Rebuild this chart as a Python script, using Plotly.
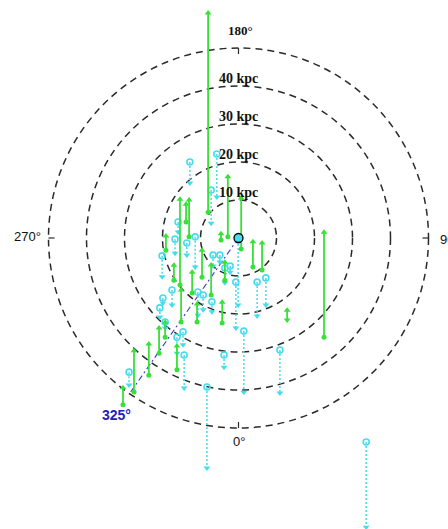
import numpy as np
import plotly.graph_objects as go

# ---------------- data (kpc, Sun at origin; 0 deg down, 90 deg right) ----------------
ring_radii = [10, 20, 30, 40, 50]
ring_labels = ["10 kpc", "20 kpc", "30 kpc", "40 kpc"]
direction_angles = [0, 90, 180, 270]
direction_labels = ["0°", "90°", "180°", "270°"]
los_angle = 325
los_length = 50
los_label = "325°"

# green objects: x, y of base (dot), length of arrow (upwards)
green_x = [-8.0, -2.8, 0.7, 3.8, 6.2, 22.5, -4.3, -15.4, -13.0, -13.8, -19.1, -4.6,
           -12.2, -9.6, -7.2, -3.6, -15.1, -10.9, -20.9, -19.3, -23.6, -27.5, -30.4,
           -16.2, -17.0]
green_y = [6.8, 0.3, -2.9, -7.6, -8.4, -26.1, -22.4, -12.4, 0.3, 4.2, -3.2, -0.5,
           -14.5, -10.3, -15.0, -11.1, -22.1, -22.1, -30.3, -26.1, -36.1, -40.5, -43.9,
           -34.7, -11.1]
green_len = [52.4, 15.8, 13.4, 6.6, 7.1, 27.6, 5.5, 22.6, 9.7, 4.7, 3.7, 1.6,
             5.5, 7.1, 7.9, 4.7, 8.4, 4.7, 6.6, 3.9, 8.2, 10.8, 4.5,
             6.3, 3.9]
# green objects with arrows at both ends
green2_x = [12.8]
green2_y = [-21.6]
green2_len = [2.6]

# cyan objects: x, y of top (circle), length of arrow (downwards)
cyan_x = [-12.8, -5.7, -7.2, -15.9, -20.1, -17.5, -11.4, -0.1, -0.7, 4.9, 7.2, 1.4,
          10.9, -6.7, -3.8, -8.3, 33.6, -16.2, -14.6, -14.3, -28.8, -20.7, -16.7,
          -3.6, -9.3, -7.0, -2.2, -10.7, -19.9, -13.6, -4.9, -19.3]
cyan_y = [20.0, 22.1, 12.6, 4.2, -4.7, -13.7, 0.3, -0.5, -11.6, -11.6, -10.5, -24.5,
          -29.5, -4.5, -30.8, -39.2, -53.7, -26.1, -24.7, -30.8, -35.3, -18.4, -0.3,
          -7.9, -15.0, -16.8, -7.4, -14.2, -15.8, -1.3, -4.5, -22.1]
cyan_len = [5.5, 11.3, 8.7, 2.6, 5.5, 3.9, 7.9, 17.1, 12.1, 8.9, 7.1, 16.1,
            11.3, 2.9, 3.2, 21.3, 22.4, 4.2, 3.4, 8.7, 3.4, 2.4, 3.7,
            3.9, 3.9, 2.6, 1.6, 6.1, 1.3, 3.2, 1.8, 1.6]

# ---------------- styles ----------------
GREEN = "#38e038"
CYAN = "#45dcee"
RING = "#2a2a2a"
PXK = 3.8           # pixels per kpc
CX, CY = 238.5, 238  # Sun position in pixels
W, H = 448, 529

fig = go.Figure()

# rings
for r in ring_radii:
    fig.add_shape(type="circle", xref="x", yref="y", x0=-r, x1=r, y0=-r, y1=r,
                  line=dict(color=RING, width=1.5, dash="7px,5px"), layer="below")

# direction ticks on outer ring
rmax = ring_radii[-1]
tick = 1.6
for a in direction_angles:
    s, c = np.sin(np.radians(a)), -np.cos(np.radians(a))
    fig.add_shape(type="line", xref="x", yref="y",
                  x0=rmax * s, y0=rmax * c, x1=(rmax - tick) * s, y1=(rmax - tick) * c,
                  line=dict(color=RING, width=1.2))

# line of sight
s, c = np.sin(np.radians(los_angle)), -np.cos(np.radians(los_angle))
fig.add_trace(go.Scatter(x=[0, los_length * s], y=[0, los_length * c], mode="lines",
                         line=dict(color="#3a3acc", width=1.1, dash="6px,3px,2px,3px"),
                         hoverinfo="skip"))

# cyan dotted lines
cx_l, cy_l = [], []
for x, y, L in zip(cyan_x, cyan_y, cyan_len):
    cx_l += [x, x, None]
    cy_l += [y, y - L, None]
fig.add_trace(go.Scatter(x=cx_l, y=cy_l, mode="lines",
                         line=dict(color=CYAN, width=1.5, dash="2px,2px"), hoverinfo="skip"))
fig.add_trace(go.Scatter(x=cyan_x, y=[y - L for y, L in zip(cyan_y, cyan_len)], mode="markers",
                         marker=dict(symbol="triangle-down", size=6, color=CYAN), hoverinfo="skip"))
fig.add_trace(go.Scatter(x=cyan_x, y=cyan_y, mode="markers",
                         marker=dict(symbol="circle-open", size=6, color=CYAN,
                                     line=dict(width=1.6, color=CYAN)), hoverinfo="skip"))

# green solid lines
gx_l, gy_l = [], []
for x, y, L in zip(green_x + green2_x, green_y + green2_y, green_len + green2_len):
    gx_l += [x, x, None]
    gy_l += [y, y + L, None]
fig.add_trace(go.Scatter(x=gx_l, y=gy_l, mode="lines",
                         line=dict(color=GREEN, width=1.8), hoverinfo="skip"))
fig.add_trace(go.Scatter(x=green_x + green2_x,
                         y=[y + L for y, L in zip(green_y + green2_y, green_len + green2_len)],
                         mode="markers",
                         marker=dict(symbol="triangle-up", size=6, color=GREEN), hoverinfo="skip"))
fig.add_trace(go.Scatter(x=green_x, y=green_y, mode="markers",
                         marker=dict(symbol="circle", size=5, color=GREEN), hoverinfo="skip"))
fig.add_trace(go.Scatter(x=green2_x, y=green2_y, mode="markers",
                         marker=dict(symbol="triangle-down", size=6, color=GREEN), hoverinfo="skip"))

# Sun
fig.add_trace(go.Scatter(x=[0], y=[0], mode="markers",
                         marker=dict(symbol="circle", size=9, color=CYAN,
                                     line=dict(width=1.3, color="black")), hoverinfo="skip"))

# ring labels
for r, lab in zip(ring_radii, ring_labels):
    fig.add_annotation(x=-5.6, y=r + 2.0, text="<b>" + lab + "</b>", showarrow=False,
                       xanchor="left", yanchor="middle",
                       font=dict(family="Liberation Serif", size=14, color="#111"))

# direction labels
dir_pos = {"0°": (0.2, -rmax - 3.6, "center"), "90°": (52.6, -0.4, "left"),
           "180°": (0.4, rmax + 4.6, "center"), "270°": (-51.4, 0.4, "right")}
for lab in direction_labels:
    x, y, xa = dir_pos[lab]
    txt = "<b>" + lab + "</b>" if lab == "180°" else lab
    fam = "Liberation Serif" if lab == "180°" else "Liberation Sans"
    fig.add_annotation(x=x, y=y, text=txt, showarrow=False, xanchor=xa, yanchor="middle",
                       font=dict(family=fam, size=13, color="#111"))

fig.add_annotation(x=-32.0, y=-46.6,
                   text="<b>" + los_label + "</b>", showarrow=False,
                   xanchor="center", yanchor="middle",
                   font=dict(family="Liberation Sans", size=14, color="#2222bb"))

fig.update_layout(
    width=W, height=H, autosize=False, showlegend=False,
    margin=dict(l=0, r=0, t=0, b=0, pad=0),
    paper_bgcolor="white", plot_bgcolor="white",
    xaxis=dict(range=[-CX / PXK, (W - CX) / PXK], visible=False, fixedrange=True),
    yaxis=dict(range=[(CY - H) / PXK, CY / PXK], visible=False, fixedrange=True),
)

fig.write_html("out.html", config={"displayModeBar": False},
               post_script="document.body.style.margin='0';document.body.style.overflow='hidden';")
